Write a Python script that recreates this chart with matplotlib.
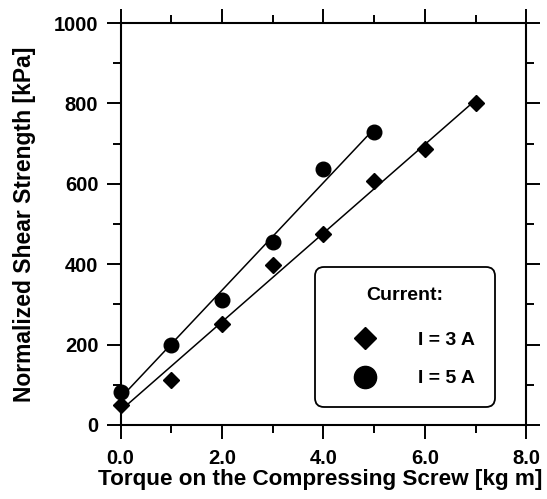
import numpy as np
import matplotlib.pyplot as plt
from matplotlib.lines import Line2D
from matplotlib.ticker import MultipleLocator

# data
torque_3a = [0, 1, 2, 3, 4, 5, 6, 7]
shear_3a = [50, 112, 250, 397, 475, 608, 686, 800]
torque_5a = [0, 1, 2, 3, 4, 5]
shear_5a = [82, 200, 310, 456, 636, 729]
legend_labels = ['I = 3 A', 'I = 5 A']

plt.rcParams['font.family'] = ['Liberation Sans', 'DejaVu Sans']
plt.rcParams['font.weight'] = 'bold'

fig = plt.figure(figsize=(5.47, 4.99), dpi=100)
ax = fig.add_axes([0.2203, 0.1483, 0.7422, 0.8056])

# linear fits drawn over the data range
for x, y in [(torque_3a, shear_3a), (torque_5a, shear_5a)]:
    x = np.array(x, dtype=float)
    k, b = np.polyfit(x, y, 1)
    xs = np.array([x.min(), x.max()])
    ax.plot(xs, k * xs + b, color='black', lw=1.1, zorder=2)

ax.plot(torque_3a, shear_3a, ls='none', marker='D', ms=7.8, color='black', zorder=3, clip_on=False)
ax.plot(torque_5a, shear_5a, ls='none', marker='o', ms=10.5, color='black', zorder=3, clip_on=False)

ax.set_xlim(0, 8)
ax.set_ylim(0, 1000)
ax.xaxis.set_major_locator(MultipleLocator(2))
ax.xaxis.set_minor_locator(MultipleLocator(1))
ax.yaxis.set_major_locator(MultipleLocator(200))
ax.yaxis.set_minor_locator(MultipleLocator(100))
ax.xaxis.set_major_formatter(lambda v, p: '%.1f' % v)

ax.tick_params(which='both', direction='out', top=True, right=True,
               width=1.4, labelsize=14.5)
ax.tick_params(which='major', length=10, pad=6)
ax.tick_params(which='minor', length=5.5)
ax.tick_params(axis='x', which='major', pad=7)
for s in ax.spines.values():
    s.set_linewidth(1.5)

ax.set_xlabel('Torque on the Compressing Screw [kg m]', fontsize=16.2,
              fontweight='bold', labelpad=1)
ax.xaxis.set_label_coords(0.492, -0.11)
ax.set_ylabel('Normalized Shear Strength [kPa]', fontsize=16.5,
              fontweight='bold', labelpad=13)

handles = [Line2D([], [], ls='none', marker='D', ms=11, color='black'),
           Line2D([], [], ls='none', marker='o', ms=16, color='black')]
leg = ax.legend(handles, legend_labels, title='Current:', loc='lower right',
                bbox_to_anchor=(0.922, 0.045), fontsize=14,
                title_fontproperties={'weight': 'bold', 'size': 14},
                frameon=True, fancybox=True, edgecolor='black', framealpha=1,
                borderpad=1.0, labelspacing=1.06, handletextpad=1.15,
                borderaxespad=0, handlelength=3.15)
leg.get_frame().set_linewidth(1.3)
leg.get_frame().set_boxstyle('round,pad=0,rounding_size=0.45')
leg._legend_box.sep = 20

fig.savefig('out.png', dpi=100)
